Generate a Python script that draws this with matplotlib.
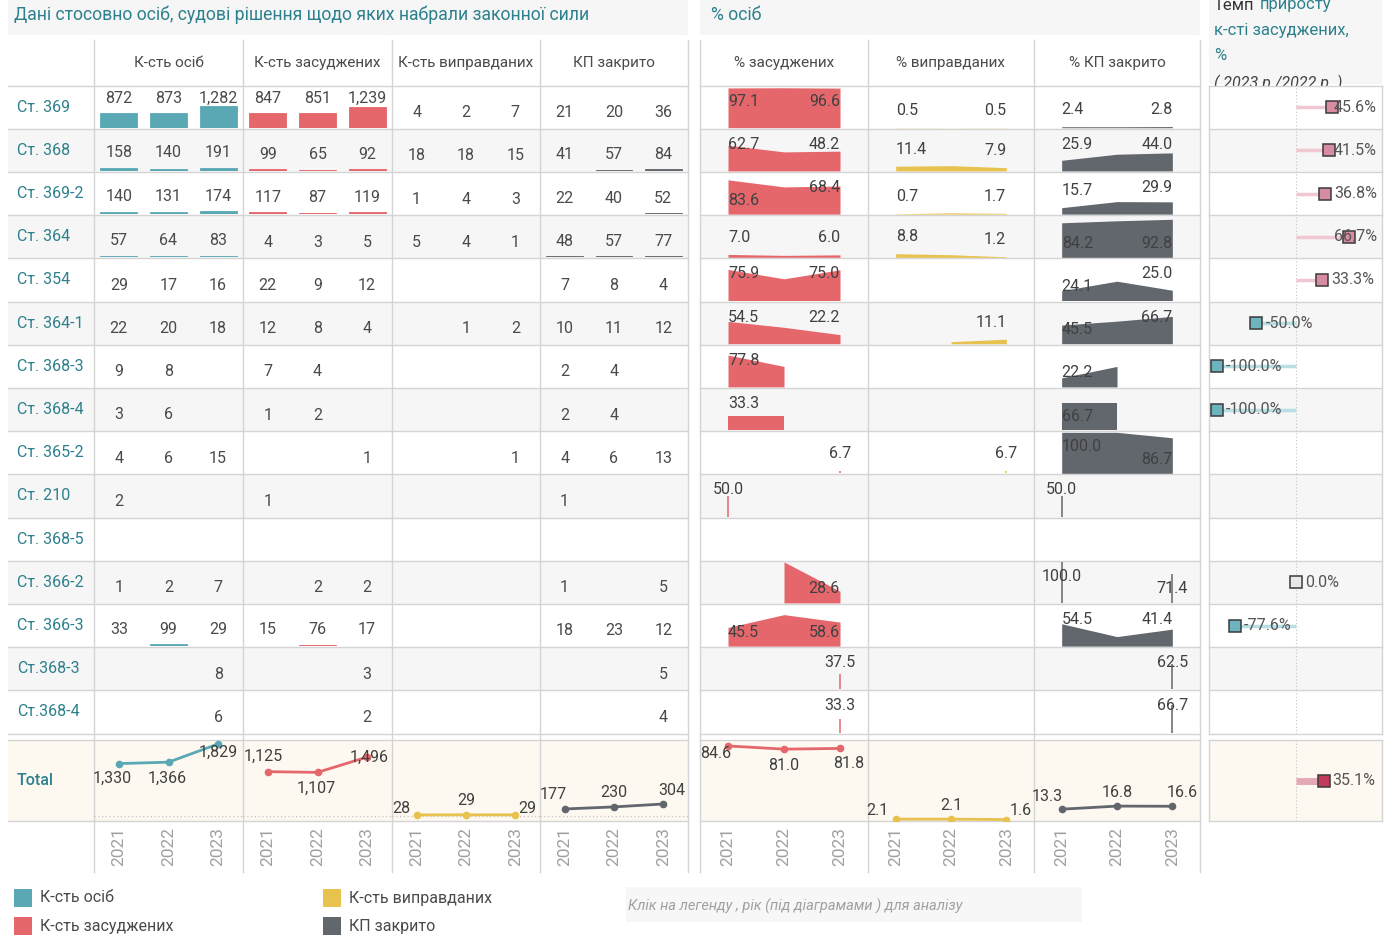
import matplotlib
matplotlib.use("Agg")
import matplotlib.pyplot as plt
from matplotlib.patches import Rectangle

plt.rcParams['font.family'] = ['Roboto', 'DejaVu Sans']

W, H = 1393, 936
N = None

# ---- data -------------------------------------------------------------
articles = ["Ст. 369", "Ст. 368", "Ст. 369-2", "Ст. 364", "Ст. 354", "Ст. 364-1",
            "Ст. 368-3", "Ст. 368-4", "Ст. 365-2", "Ст. 210", "Ст. 368-5",
            "Ст. 366-2", "Ст. 366-3", "Ст.368-3", "Ст.368-4"]
years = ["2021", "2022", "2023"]

persons = [[872, 873, 1282], [158, 140, 191], [140, 131, 174], [57, 64, 83],
           [29, 17, 16], [22, 20, 18], [9, 8, N], [3, 6, N], [4, 6, 15],
           [2, N, N], [N, N, N], [1, 2, 7], [33, 99, 29], [N, N, 8], [N, N, 6]]
convicted = [[847, 851, 1239], [99, 65, 92], [117, 87, 119], [4, 3, 5],
             [22, 9, 12], [12, 8, 4], [7, 4, N], [1, 2, N], [N, N, 1],
             [1, N, N], [N, N, N], [N, 2, 2], [15, 76, 17], [N, N, 3], [N, N, 2]]
acquitted = [[4, 2, 7], [18, 18, 15], [1, 4, 3], [5, 4, 1], [N, N, N],
             [N, 1, 2], [N, N, N], [N, N, N], [N, N, 1], [N, N, N], [N, N, N],
             [N, N, N], [N, N, N], [N, N, N], [N, N, N]]
closed = [[21, 20, 36], [41, 57, 84], [22, 40, 52], [48, 57, 77], [7, 8, 4],
          [10, 11, 12], [2, 4, N], [2, 4, N], [4, 6, 13], [1, N, N], [N, N, N],
          [1, N, 5], [18, 23, 12], [N, N, 5], [N, N, 4]]

pct_convicted = [[97.1, 97.5, 96.6], [62.7, 46.4, 48.2], [83.6, 66.4, 68.4],
                 [7.0, 4.7, 6.0], [75.9, 52.9, 75.0], [54.5, 40.0, 22.2],
                 [77.8, 50.0, N], [33.3, 33.3, N], [N, N, 6.7], [50.0, N, N],
                 [N, N, N], [N, 100.0, 28.6], [45.5, 76.8, 58.6], [N, N, 37.5],
                 [N, N, 33.3]]
pct_acquitted = [[0.5, 0.2, 0.5], [11.4, 12.9, 7.9], [0.7, 3.1, 1.7],
                 [8.8, 6.3, 1.2], [N, N, N], [N, 5.0, 11.1], [N, N, N],
                 [N, N, N], [N, N, 6.7], [N, N, N], [N, N, N], [N, N, N],
                 [N, N, N], [N, N, N], [N, N, N]]
pct_closed = [[2.4, 2.3, 2.8], [25.9, 40.7, 44.0], [15.7, 30.5, 29.9],
              [84.2, 89.1, 92.8], [24.1, 47.1, 25.0], [45.5, 55.0, 66.7],
              [22.2, 50.0, N], [66.7, 66.7, N], [100.0, 100.0, 86.7],
              [50.0, N, N], [N, N, N], [100.0, N, 71.4], [54.5, 23.2, 41.4],
              [N, N, 62.5], [N, N, 66.7]]
growth = [45.6, 41.5, 36.8, 66.7, 33.3, -50.0, -100.0, -100.0, N, N, N,
          0.0, -77.6, N, N]

total_persons = [1330, 1366, 1829]
total_convicted = [1125, 1107, 1496]
total_acquitted = [28, 29, 29]
total_closed = [177, 230, 304]
total_pct_convicted = [84.6, 81.0, 81.8]
total_pct_acquitted = [2.1, 2.1, 1.6]
total_pct_closed = [13.3, 16.8, 16.6]
total_growth = 35.1

# labels that Tableau pushed to the bottom of the pane
LOW = {("Ст. 369-2", "conv", 0), ("Ст. 366-2", "conv", 2), ("Ст. 366-3", "conv", 0),
       ("Ст. 366-3", "conv", 2), ("Ст. 364", "closed", 0), ("Ст. 364", "closed", 2),
       ("Ст. 354", "closed", 0), ("Ст. 364-1", "closed", 0), ("Ст. 368-3", "closed", 0),
       ("Ст. 368-4", "closed", 0), ("Ст. 365-2", "closed", 2), ("Ст. 366-2", "closed", 2)}

# ---- style ------------------------------------------------------------
TEAL = "#5aa8b4"
RED = "#e5676b"
YELLOW = "#e8c24e"
GREY = "#62666d"
TXT = "#4a4a4a"
LINK = "#2d808d"
LINE = "#d4d4d4"
BAND = "#f6f6f6"
CREAM = "#fdf9f1"
FS = 11.5
MIN_BAR = 45  # smaller bars disappear under the row line in the original

ROW0, RH, NR = 85.5, 43.2, 15
TOT0, TOT1 = 740, 821
YBOT = 872
cgx = [94, 243, 392, 540, 688]
pgx = [700, 868, 1034, 1200]
GX0, GX1 = 1209, 1382

fig = plt.figure(figsize=(W / 100, H / 100), dpi=100)
bg = fig.add_axes([0, 0, 1, 1])
bg.set_xlim(0, W)
bg.set_ylim(H, 0)
bg.axis('off')


def px_axes(x0, y0, x1, y1):
    ax = fig.add_axes([x0 / W, 1 - y1 / H, (x1 - x0) / W, (y1 - y0) / H])
    ax.set_axis_off()
    ax.patch.set_alpha(0)
    return ax


def rt(i):
    return ROW0 + i * RH


# ---- background, bands, grid -------------------------------------------
bg.add_patch(Rectangle((8, 0), 680, 35, fc=BAND, ec="none"))
bg.add_patch(Rectangle((700, 0), 500, 35, fc=BAND, ec="none"))
bg.add_patch(Rectangle((GX0, 0), GX1 - GX0, 84, fc=BAND, ec="none", zorder=0))
bg.text(14, 15, "Дані стосовно осіб, судові рішення щодо яких набрали законної сили",
        fontsize=12.7, color=LINK, va="center")
bg.text(711, 15, "% осіб", fontsize=12.7, color=LINK, va="center")
bg.text(1214, 5, "Темп", fontsize=12, color="#333333", va="center", zorder=1)
bg.text(1260, 5, "приросту", fontsize=12, color=LINK, va="center", zorder=1)
bg.text(1214, 30, "к-сті засуджених,", fontsize=12, color=LINK, va="center", zorder=1)
bg.text(1214, 55, "%", fontsize=12, color=LINK, va="center", zorder=1)
bg.text(1214, 83, "( 2023 р./2022 р. )", fontsize=11.5, color="#444444", style="italic",
        va="center", zorder=1)

for i in range(NR):
    fc = BAND if i % 2 else "white"
    for x0, x1 in [(8, 688), (700, 1200), (GX0, GX1)]:
        bg.add_patch(Rectangle((x0, rt(i)), x1 - x0, RH, fc=fc, ec="none", zorder=2))
        bg.plot([x0, x1], [rt(i) + RH, rt(i) + RH], color=LINE, lw=1, zorder=3)
for x0, x1 in [(8, 688), (700, 1200), (GX0, GX1)]:
    bg.add_patch(Rectangle((x0, TOT0), x1 - x0, TOT1 - TOT0, fc=CREAM, ec="none", zorder=2))
    for y in (ROW0, TOT0, TOT1):
        bg.plot([x0, x1], [y, y], color=LINE, lw=1, zorder=3)
for x in cgx + pgx:
    bg.plot([x, x], [40, YBOT], color=LINE, lw=1, zorder=3)
for x in (GX0, GX1):
    bg.plot([x, x], [ROW0, rt(NR)], color=LINE, lw=1, zorder=3)
    bg.plot([x, x], [TOT0, TOT1], color=LINE, lw=1, zorder=3)

# column headers
heads = ["К-сть осіб", "К-сть засуджених", "К-сть виправданих", "КП закрито"]
for g, t in enumerate(heads):
    bg.text((cgx[g] + cgx[g + 1]) / 2, 63, t, ha="center", va="center", fontsize=11, color=TXT)
pheads = ["% засуджених", "% виправданих", "% КП закрито"]
for g, t in enumerate(pheads):
    bg.text((pgx[g] + pgx[g + 1]) / 2, 63, t, ha="center", va="center", fontsize=11, color=TXT)

# row labels
for i, a in enumerate(articles):
    bg.text(17, rt(i) + RH / 2, a, va="center", fontsize=11.5, color=LINK, zorder=4)
bg.text(17, (TOT0 + TOT1) / 2, "Total", va="center", fontsize=11.5, color=LINK,
        fontweight="medium", zorder=4)

# ---- count cells ---------------------------------------------------------
COUNT_TOP = 2500
count_groups = [(persons, TEAL), (convicted, RED), (acquitted, YELLOW), (closed, GREY)]
for g, (data, color) in enumerate(count_groups):
    for i, vals in enumerate(data):
        ax = px_axes(cgx[g], rt(i), cgx[g + 1], rt(i) + RH - 1)
        ax.set_xlim(-0.5, 2.5)
        ax.set_ylim(0, COUNT_TOP)
        present = [(j, v) for j, v in enumerate(vals) if v is not None]
        if not present:
            continue
        shown = [(j, v) for j, v in present if v >= MIN_BAR]
        if shown:
            ax.bar([j for j, _ in shown], [v for _, v in shown], width=0.74,
                   color=color, ec=color, lw=0.6)
        ppu = (RH - 1) / COUNT_TOP
        off = min(15 + max(v for _, v in present) * ppu, 29)
        for j, v in present:
            ax.text(j, off / ppu, f"{v:,}", ha="center", va="center", fontsize=FS, color=TXT)

# ---- percent cells --------------------------------------------------------
PCT_TOP = 103
pct_groups = [("conv", pct_convicted, RED), ("acq", pct_acquitted, YELLOW),
              ("closed", pct_closed, GREY)]
for g, (key, data, color) in enumerate(pct_groups):
    for i, vals in enumerate(data):
        ax = px_axes(pgx[g], rt(i), pgx[g + 1], rt(i) + RH - 1)
        ax.set_xlim(-0.5, 2.5)
        ax.set_ylim(0, PCT_TOP)
        ppu = (RH - 1) / PCT_TOP
        segs, cur = [], []
        for j, v in enumerate(vals):
            if v is None:
                if cur:
                    segs.append(cur)
                cur = []
            else:
                cur.append(j)
        if cur:
            segs.append(cur)
        for seg in segs:
            vs = [vals[j] for j in seg]
            if len(seg) > 1:
                ax.fill_between(seg, 0, vs, color=color, lw=0)
            else:
                ax.vlines(seg[0], 0, vs[0], color=color, lw=1.1)
            for pos, j in enumerate(seg):
                if j == 1:
                    continue
                if len(seg) == 1:
                    ha = "center"
                else:
                    ha = "left" if pos == 0 else "right"
                v = vals[j]
                if (articles[i], key, j) in LOW:
                    ypx = 14
                else:
                    ypx = min(v * ppu + 17, RH - 16.5)
                ax.text(j, ypx / ppu, f"{v:.1f}", ha=ha, va="center", fontsize=FS,
                        color="#404040")

# ---- total row -------------------------------------------------------------
tot_counts = [
    (total_persons, TEAL, [(-7, -15), (-1, -16), (0, -8)]),
    (total_convicted, RED, [(-5, 15), (-1, -16), (2, 0)]),
    (total_acquitted, YELLOW, [(-15, 6), (0, 14), (12, 6)]),
    (total_closed, GREY, [(-11, 14), (0, 14), (8, 13)]),
]
for g, (vals, color, offs) in enumerate(tot_counts):
    ax = px_axes(cgx[g], TOT0, cgx[g + 1], TOT1)
    ax.set_xlim(-0.5, 2.5)
    ax.set_ylim(-128, 1929)
    ax.axhline(0, color="#c4c4c4", lw=0.9, ls=(0, (1, 2)))
    ax.plot(range(3), vals, color=color, lw=2, marker="o", ms=4.5)
    for j, v in enumerate(vals):
        ax.annotate(f"{v:,}", (j, v), xytext=offs[j], textcoords="offset pixels",
                    ha="center", va="center", fontsize=FS, color="#404040")

tot_pcts = [
    (total_pct_convicted, RED, [(-12, -8), (0, -16), (9, -15)]),
    (total_pct_acquitted, YELLOW, [(-18, 9), (0, 14), (14, 9)]),
    (total_pct_closed, GREY, [(-14, 13), (0, 14), (10, 14)]),
]
for g, (vals, color, offs) in enumerate(tot_pcts):
    ax = px_axes(pgx[g], TOT0, pgx[g + 1], TOT1)
    ax.set_xlim(-0.5, 2.5)
    ax.set_ylim(0, 91.3)
    ax.plot(range(3), vals, color=color, lw=2, marker="o", ms=4.5)
    for j, v in enumerate(vals):
        ax.annotate(f"{v:.1f}", (j, v), xytext=offs[j], textcoords="offset pixels",
                    ha="center", va="center", fontsize=FS, color="#404040")

# year labels
for gx in (cgx, pgx):
    for g in range(len(gx) - 1):
        ax = px_axes(gx[g], TOT1, gx[g + 1], YBOT)
        ax.set_xlim(-0.5, 2.5)
        ax.set_ylim(0, 1)
        for j, y in enumerate(years):
            ax.text(j, 0.5, y, rotation=90, ha="center", va="center", fontsize=12.5,
                    color="#a0a0a0")

# ---- growth panel -----------------------------------------------------------
GLIM = (-110, 109)
gppu = (GX1 - GX0) / (GLIM[1] - GLIM[0])


def draw_growth(ax, v, total=False):
    ax.set_xlim(*GLIM)
    ax.set_ylim(-1, 1)
    ax.axvline(0, color="#c4c4c4", lw=0.8, ls=(0, (1, 2)))
    if v is None:
        return
    if total:
        line_c, face, lw = "#e4a9b7", "#c23a5c", 5
    elif v > 0:
        line_c, face, lw = "#f1c7d1", "#d78ca1", 2.5
    elif v < 0:
        line_c, face, lw = "#b8dfe4", "#6db4be", 2.5
    else:
        line_c, face, lw = "#dddddd", "#e8e8e8", 2.5
    ax.plot([0, v], [0, 0], color=line_c, lw=lw, solid_capstyle="butt")
    ax.plot([v], [0], marker="s", ms=8, mfc=face, mec="#3a3a3a", mew=1.1)
    ax.text(min(v + 9 / gppu, 38 / gppu), 0, f"{v:.1f}%", ha="left", va="center",
            fontsize=FS, color="#555555")


for i, v in enumerate(growth):
    draw_growth(px_axes(GX0, rt(i), GX1, rt(i) + RH), v)
draw_growth(px_axes(GX0, TOT0, GX1, TOT1), total_growth, total=True)

# ---- legend and note ------------------------------------------------------
legend = [("К-сть осіб", TEAL, 14, 898), ("К-сть засуджених", RED, 14, 926),
          ("К-сть виправданих", YELLOW, 323, 898), ("КП закрито", GREY, 323, 926)]
for name, color, x, y in legend:
    bg.add_patch(Rectangle((x, y - 9), 18, 18, fc=color, ec="none"))
    bg.text(x + 26, y, name, va="center", fontsize=11.5, color=TXT)
bg.add_patch(Rectangle((626, 887), 456, 35, fc="#f7f7f7", ec="none"))
bg.text(628, 906, "Клік на легенду , рік (під діаграмами ) для аналізу", va="center",
        fontsize=10.5, style="italic", color="#a0a0a0")

fig.savefig("out.png", dpi=100)
